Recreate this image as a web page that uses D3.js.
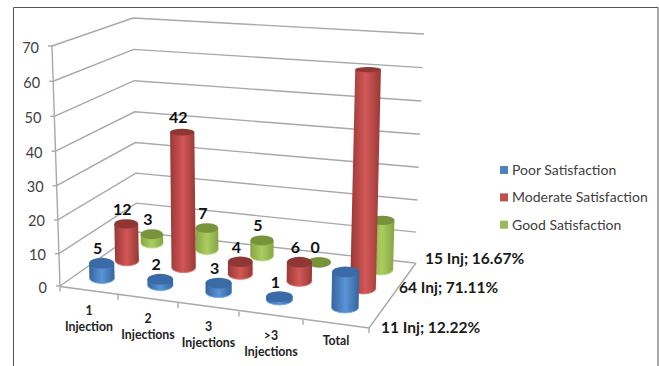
<!DOCTYPE html>
<html>
<head>
<meta charset="utf-8">
<script src="https://cdn.jsdelivr.net/npm/d3@7/dist/d3.min.js"></script>
<style>
html, body { margin: 0; padding: 0; background: #fff; }
svg { display: block; }
text { font-family: Lato, "Open Sans", sans-serif; }
</style>
</head>
<body>
<svg id="chart" width="659" height="366"></svg>
<script>
// Satisfaction counts per injection group
const categories = [["1", "Injection"], ["2", "Injections"], ["3", "Injections"], [">3", "Injections"], ["Total"]];
const seriesNames = ["Poor Satisfaction", "Moderate Satisfaction", "Good Satisfaction"];
const poor = [5, 2, 3, 1, 11];
const moderate = [12, 42, 4, 6, 64];
const good = [3, 7, 5, 0, 15];
const yTicks = [0, 10, 20, 30, 40, 50, 60, 70];
const totalLabels = ["11 Inj; 12.22%", "64 Inj; 71.11%", "15 Inj; 16.67%"];

const fills = [
  { edge: "#35659c", mid: "#5894d6", top: "#3a6ba6", rim: "#6ea6e2", swatch: "#4f81bd" },
  { edge: "#993836", mid: "#d25856", top: "#8f3735", rim: "#dd7472", swatch: "#c0504d" },
  { edge: "#86a544", mid: "#aacd60", top: "#77943b", rim: "#bcd87c", swatch: "#9bbb59" }
];

const svg = d3.select("#chart");

// Vertical axis runs slightly compressed towards the floor because of the perspective
const heightT = d3.scalePow().exponent(1.03).domain([0, 70]).range([0, 1]);

// Wall edges in screen space: front-left, back-left, back-right
const edges = [
  { x: d3.scaleLinear().domain([0, 1]).range([60, 52]), y: d3.scaleLinear().domain([0, 1]).range([286, 46]) },
  { x: d3.scaleLinear().domain([0, 1]).range([137, 133]), y: d3.scaleLinear().domain([0, 1]).range([232, 18]) },
  { x: d3.scaleLinear().domain([0, 1]).range([415, 424]), y: d3.scaleLinear().domain([0, 1]).range([263, 34]) }
];
const edgePoint = (edge, v) => [edge.x(heightT(v)), edge.y(heightT(v))];

// Floor front edge and category ticks, spaced wider towards the viewer
const frontX = d3.scaleLinear().domain([0, 1, 2, 3, 4, 5]).range([60, 118, 178, 239, 303, 369]);
const frontY = d3.scaleLinear().domain([0, 5]).range([286.5, 328]);
const floorCornerX = 416, floorCornerY = 263;

// Bar footprints on the floor: category and series position through band scales
const catT = d3.scaleLinear().domain([0, 1, 2, 3, 4]).range([0, 0.24, 0.48, 0.73, 1]);
const frontRowX = d3.scaleLinear().domain([0, 1]).range([102, 345]);
const frontRowY = d3.scaleLinear().domain([0, 1]).range([278, 307.5]);
const backRowX = d3.scaleLinear().domain([0, 1]).range([152, 381]);
const backRowY = d3.scaleLinear().domain([0, 1]).range([243, 269.5]);
const seriesT = d3.scaleLinear().domain([0, 2]).range([0, 1]);

function footprint(c, s) {
  const t = catT(c), d = seriesT(s);
  return {
    x: d3.interpolateNumber(frontRowX(t), backRowX(t))(d),
    y: d3.interpolateNumber(frontRowY(t), backRowY(t))(d)
  };
}
const fullHeight = d3.scaleLinear().domain([0, 1]).range([225, 240]);
const radius = d3.scaleLinear().domain([0, 1]).range([12.6, 13.6]);
const seriesShrink = d3.scaleLinear().domain([0, 2]).range([1, 0.89]);
const flatten = d3.scaleLinear().domain([70, 270]).range([2.6, 5.4]).clamp(true);
const lean = d3.scaleLinear().domain([240, 362]).range([0, 0.023]);

// Walls and gridlines
const grid = svg.append("g").attr("fill", "none").attr("stroke", "#a8a8a8").attr("stroke-width", 1.4);
const line = d3.line();
yTicks.forEach(v => {
  grid.append("path").attr("d", line(edges.map(e => edgePoint(e, v))));
  const p = edgePoint(edges[0], v);
  grid.append("path").attr("d", line([[p[0] - 4, p[1]], p]));
});
grid.append("path").attr("d", line([edgePoint(edges[0], 0), edgePoint(edges[0], 70)]));

// Floor outline
grid.append("path").attr("d", line([
  [frontX(0), frontY(0)], [frontX(5), frontY(5)], [floorCornerX, floorCornerY]
]));
d3.range(0, 6).forEach(i => {
  grid.append("path").attr("d", line([[frontX(i), frontY(i)], [frontX(i), frontY(i) + 5]]));
});

// Y axis labels
svg.append("g").selectAll("text").data(yTicks).join("text")
  .attr("x", v => edgePoint(edges[0], v)[0] - 13)
  .attr("y", v => edgePoint(edges[0], v)[1] + 6.5)
  .attr("text-anchor", "end")
  .attr("font-size", 14.5)
  .attr("fill", "#404040")
  .text(v => v);

// Body shading
const defs = svg.append("defs");
fills.forEach((f, i) => {
  const g = defs.append("linearGradient").attr("id", "shade" + i);
  g.append("stop").attr("offset", 0).attr("stop-color", f.edge);
  g.append("stop").attr("offset", 0.5).attr("stop-color", f.mid);
  g.append("stop").attr("offset", 1).attr("stop-color", f.edge);
});

const seriesValues = [poor, moderate, good];
const labelLayer = [];
const bars = svg.append("g");

// Rear series first so nearer cylinders overlap them
[2, 1, 0].forEach(s => {
  seriesValues[s].forEach((value, c) => {
    const base = footprint(c, s);
    const t = catT(c);
    const h = fullHeight(t) * heightT(value);
    const r = radius(t) * seriesShrink(s);
    const topX = base.x + h * lean(base.x);
    const topY = base.y - h;
    const ryB = flatten(base.y), ryT = flatten(topY);
    const f = fills[s];
    if (value > 0) {
      bars.append("path")
        .attr("d", `M${topX - r},${topY} L${base.x - r},${base.y} A${r},${ryB} 0 0 0 ${base.x + r},${base.y} L${topX + r},${topY} Z`)
        .attr("fill", `url(#shade${s})`);
      bars.append("path")
        .attr("d", `M${base.x - r},${base.y} A${r},${ryB} 0 0 0 ${base.x + r},${base.y}`)
        .attr("fill", "none").attr("stroke", f.rim).attr("stroke-width", 1);
    }
    bars.append("ellipse")
      .attr("cx", topX).attr("cy", topY)
      .attr("rx", r).attr("ry", ryT)
      .attr("fill", f.top);
    if (c < 4) labelLayer.push({ value, x: topX - 4, y: topY - 9 });
  });
});

// Value labels over the individual groups
svg.append("g").selectAll("text").data(labelLayer).join("text")
  .attr("x", d => d.x).attr("y", d => d.y)
  .attr("text-anchor", "middle")
  .attr("font-size", 16)
  .attr("font-weight", 700)
  .attr("fill", "#111")
  .text(d => d.value);

// Category labels under the front edge
const catLabels = svg.append("g").attr("font-size", 12.3).attr("font-weight", 700).attr("fill", "#222");
categories.forEach((lines, i) => {
  const cx = frontX(i + 0.5), cy = frontY(i + 0.5);
  const text = catLabels.append("text").attr("text-anchor", "middle");
  lines.forEach((ln, k) => {
    text.append("tspan")
      .attr("x", cx)
      .attr("y", cy + (lines.length === 1 ? 21 : 24) + k * 16)
      .text(ln);
  });
});

// Percentages along the right-hand floor edge
const sideX = d3.scaleLinear().domain([0, 1, 2]).range([381, 399, 425]);
const sideY = d3.scaleLinear().domain([0, 1, 2]).range([333, 293, 264]);
svg.append("g").selectAll("text").data(totalLabels).join("text")
  .attr("x", (d, i) => sideX(i)).attr("y", (d, i) => sideY(i))
  .attr("font-size", 15.5).attr("font-weight", 700).attr("fill", "#1a1a1a")
  .text(d => d);

// Legend
const legendY = d3.scaleLinear().domain([0, 2]).range([170, 224.7]);
const legend = svg.append("g").selectAll("g").data(seriesNames).join("g")
  .attr("transform", (d, i) => `translate(500,${legendY(i)})`);
legend.append("rect").attr("x", 0).attr("y", -4).attr("width", 8).attr("height", 8)
  .attr("fill", (d, i) => fills[i].swatch);
legend.append("text").attr("x", 12).attr("y", 5)
  .attr("font-size", 14).attr("fill", "#404040").text(d => d);

// Frame around the chart area, open along the bottom
svg.append("path")
  .attr("d", line([[13.5, 366], [13.5, 7.5], [658, 7.5], [658, 366]]))
  .attr("fill", "none").attr("stroke", "#555").attr("stroke-width", 1);
</script>
</body>
</html>
